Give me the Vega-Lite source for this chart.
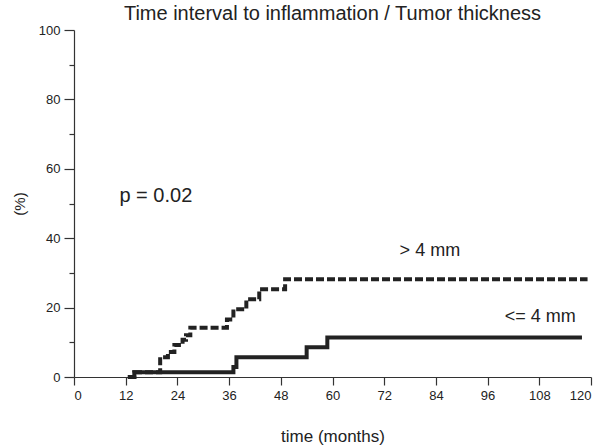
{
  "$schema": "https://vega.github.io/schema/vega-lite/v6.json",
  "autosize": "none",
  "padding": {"left": 74, "top": 30, "right": 9, "bottom": 69},
  "width": 517,
  "height": 347,
  "background": "white",
  "title": {"text": "Time interval to inflammation / Tumor thickness", "font": "Liberation Sans", "fontSize": 20, "fontWeight": "normal", "color": "#222", "anchor": "middle", "offset": 0},
  "config": {
    "view": {"stroke": null},
    "axis": {"grid": false, "domainColor": "#333", "tickColor": "#333", "labelColor": "#222", "titleColor": "#222", "labelFont": "Liberation Sans", "titleFont": "Liberation Sans", "labelFontSize": 13, "titleFontWeight": "normal", "domainWidth": 1.2, "tickWidth": 1.2}
  },
  "datasets": {
    "curves": [
      {"t": 12.5, "v": 0, "group": "<= 4 mm"},
      {"t": 14, "v": 1.4, "group": "<= 4 mm"},
      {"t": 37, "v": 2.9, "group": "<= 4 mm"},
      {"t": 37.7, "v": 5.7, "group": "<= 4 mm"},
      {"t": 54, "v": 8.6, "group": "<= 4 mm"},
      {"t": 58.8, "v": 11.4, "group": "<= 4 mm"},
      {"t": 117.9, "v": 11.4, "group": "<= 4 mm"},
      {"t": 12.5, "v": 0, "group": "> 4 mm"},
      {"t": 14, "v": 1.4, "group": "> 4 mm"},
      {"t": 20, "v": 5.7, "group": "> 4 mm"},
      {"t": 21.8, "v": 7.2, "group": "> 4 mm"},
      {"t": 23.3, "v": 9.2, "group": "> 4 mm"},
      {"t": 25.2, "v": 10.7, "group": "> 4 mm"},
      {"t": 26, "v": 12, "group": "> 4 mm"},
      {"t": 27, "v": 14.2, "group": "> 4 mm"},
      {"t": 35.5, "v": 16.6, "group": "> 4 mm"},
      {"t": 37, "v": 19.5, "group": "> 4 mm"},
      {"t": 40, "v": 22.4, "group": "> 4 mm"},
      {"t": 43, "v": 25.3, "group": "> 4 mm"},
      {"t": 49, "v": 28.2, "group": "> 4 mm"},
      {"t": 119.2, "v": 28.2, "group": "> 4 mm"}
    ],
    "notes": [
      {"t": 82.6, "v": 36.3, "label": "> 4 mm", "size": "label"},
      {"t": 108.2, "v": 17.4, "label": "<= 4 mm", "size": "label"},
      {"t": 19.0, "v": 52.2, "label": "p = 0.02", "size": "p"}
    ]
  },
  "resolve": {"axis": {"y": "independent"}},
  "layer": [
    {
      "data": {"name": "curves"},
      "transform": [{"filter": "datum.group === '> 4 mm'"}],
      "mark": {"type": "line", "interpolate": "step-after", "color": "#222", "strokeWidth": 4, "strokeDash": [8, 3], "strokeCap": "butt", "strokeJoin": "miter"},
      "encoding": {
        "x": {"field": "t", "type": "quantitative", "scale": {"domain": [0, 120], "nice": false, "zero": false},
              "axis": {"values": [0, 12, 24, 36, 48, 60, 72, 84, 96, 108, 120], "tickSize": 8, "labelPadding": 4, "title": "time (months)", "titleFontSize": 17, "titlePadding": 26}},
        "y": {"field": "v", "type": "quantitative", "scale": {"domain": [0, 100], "nice": false},
              "axis": {"orient": "left", "values": [10, 30, 50, 70, 90], "tickSize": 5, "labels": false, "domain": false, "title": null}}
      }
    },
    {
      "data": {"name": "curves"},
      "transform": [{"filter": "datum.group === '<= 4 mm'"}],
      "mark": {"type": "line", "interpolate": "step-after", "color": "#222", "strokeWidth": 4, "strokeCap": "butt", "strokeJoin": "miter"},
      "encoding": {
        "x": {"field": "t", "type": "quantitative"},
        "y": {"field": "v", "type": "quantitative",
              "axis": {"orient": "left", "values": [0, 20, 40, 60, 80, 100], "tickSize": 10, "labelPadding": 4, "title": "(%)", "titleFontSize": 15, "titlePadding": 11}}
      }
    },
    {
      "data": {"name": "notes"},
      "mark": {"type": "text", "font": "Liberation Sans", "color": "#222", "align": "center", "baseline": "middle"},
      "encoding": {
        "x": {"field": "t", "type": "quantitative"},
        "y": {"field": "v", "type": "quantitative", "axis": null},
        "text": {"field": "label"},
        "size": {"field": "size", "type": "nominal", "scale": {"domain": ["label", "p"], "range": [18, 20]}, "legend": null}
      }
    }
  ]
}
